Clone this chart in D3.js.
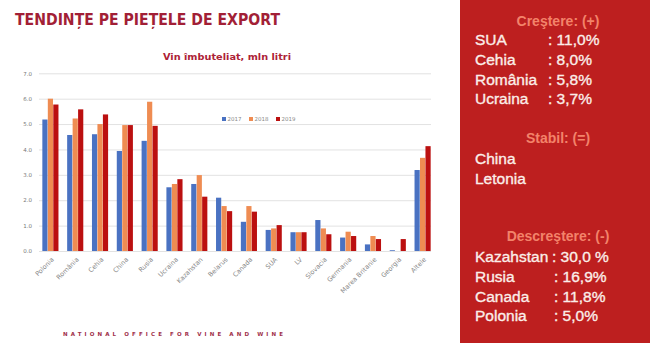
<!DOCTYPE html>
<html><head><meta charset="utf-8">
<script src="https://cdn.jsdelivr.net/npm/d3@7"></script>
<style>html,body{margin:0;padding:0;background:#fff;}svg{display:block;}</style>
</head><body>
<svg id="c" width="650" height="350"></svg>
<script>
const categories = ["Polonia","România","Cehia","China","Rusia","Ucraina","Kazahstan","Belarus","Canada","SUA","LV","Slovacia","Germania","Marea Britanie","Georgia","Altele"];
const years = ["2017","2018","2019"];
const v2017 = [5.18,4.57,4.60,3.94,4.34,2.51,2.64,2.10,1.15,0.83,0.74,1.22,0.53,0.26,0.03,3.19];
const v2018 = [6.00,5.22,5.00,4.96,5.88,2.64,2.99,1.77,1.77,0.89,0.74,0.89,0.76,0.59,0.00,3.67];
const v2019 = [5.77,5.58,5.38,4.96,4.93,2.83,2.14,1.57,1.55,1.02,0.74,0.66,0.59,0.47,0.47,4.13];
const yTicks = [0,1,2,3,4,5,6,7];
const growthNames = ["SUA","Cehia","România","Ucraina"];
const growthVals = [": 11,0%",": 8,0%",": 5,8%",": 3,7%"];
const stableNames = ["China","Letonia"];
const declineNames = ["Kazahstan","Rusia","Canada","Polonia"];
const declineVals = [": 30,0 %",": 16,9%",": 11,8%",": 5,0%"];

const seriesVals = [v2017, v2018, v2019];
const colors = ["#4a72c2", "#ef8c52", "#bb1010"];
const svg = d3.select("#c");

// Title
svg.append("text").attr("x", 15).attr("y", 25)
  .attr("font-family", "DejaVu Sans").attr("font-weight", "bold").attr("font-size", 15.5)
  .attr("fill", "#a21f36").attr("textLength", 265).attr("lengthAdjust", "spacingAndGlyphs")
  .text("TENDINȚE PE PIEȚELE DE EXPORT");
svg.append("text").attr("x", 227).attr("y", 60).attr("text-anchor", "middle")
  .attr("font-family", "DejaVu Sans").attr("font-weight", "bold").attr("font-size", 9)
  .attr("fill", "#ad2236").attr("textLength", 128).attr("lengthAdjust", "spacingAndGlyphs")
  .text("Vin îmbuteliat, mln litri");

// Scales
const y = d3.scaleLinear().domain([0, 7]).range([251, 73.3]);
const x = d3.scaleBand().domain(categories).range([38, 435]).paddingInner(0.35).paddingOuter(0.175);
const xs = d3.scaleBand().domain(years).range([0, x.bandwidth()]).paddingInner(0.05);

// Grid + y axis
const yAxis = d3.axisLeft(y).tickValues(yTicks).tickFormat(d3.format(".1f")).tickSize(-(431 - 39)).tickPadding(7);
const gy = svg.append("g").attr("transform", "translate(39,0)").call(yAxis);
gy.select(".domain").remove();
gy.selectAll(".tick line").attr("stroke", "#e2e2e2").attr("stroke-width", 1);
gy.selectAll(".tick text").attr("font-family", "DejaVu Sans").attr("font-size", 5.5).attr("fill", "#777");

// Bars
const g = svg.append("g");
categories.forEach((c, i) => {
  years.forEach((yr, k) => {
    const v = seriesVals[k][i];
    g.append("rect")
      .attr("x", x(c) + xs(yr)).attr("width", xs.bandwidth())
      .attr("y", y(v)).attr("height", Math.max(0, y(0) - y(v)))
      .attr("fill", colors[k]);
  });
});

// X axis labels
const xAxis = d3.axisBottom(x).tickSize(0).tickPadding(0);
const gx = svg.append("g").attr("transform", "translate(0,251)").call(xAxis);
gx.select(".domain").remove();
gx.selectAll(".tick text")
  .attr("font-family", "DejaVu Sans").attr("font-size", 6.5).attr("fill", "#888")
  .attr("text-anchor", "end").attr("dy", 0)
  .attr("transform", "translate(4,9) rotate(-45)");

// Legend
const legX = [222, 249, 276];
years.forEach((yr, k) => {
  svg.append("rect").attr("x", legX[k]).attr("y", 117).attr("width", 4).attr("height", 4).attr("fill", colors[k]);
  svg.append("text").attr("x", legX[k] + 5.5).attr("y", 121).attr("font-family", "DejaVu Sans")
    .attr("font-size", 5.5).attr("fill", "#888").text(yr);
});

// Footer
svg.append("text").attr("x", 63).attr("y", 336)
  .attr("font-family", "DejaVu Sans").attr("font-weight", "bold").attr("font-size", 5.5)
  .attr("fill", "#a0304a").attr("textLength", 220).attr("lengthAdjust", "spacing")
  .text("NATIONAL OFFICE FOR VINE AND WINE");

// Panel
svg.append("rect").attr("x", 460).attr("y", 0).attr("width", 190).attr("height", 343).attr("fill", "#bd1f1f");
const hdrColor = "#f3836a", itemColor = "#fbeee9";
function header(txt, cy) {
  svg.append("text").attr("x", 558).attr("y", cy + 5).attr("text-anchor", "middle")
    .attr("font-family", "Liberation Sans").attr("font-weight", "bold").attr("font-size", 14)
    .attr("fill", hdrColor).text(txt);
}
function item(txt, xx, cy) {
  svg.append("text").attr("x", xx).attr("y", cy + 5.5)
    .attr("font-family", "Liberation Sans").attr("font-size", 15.5)
    .attr("fill", itemColor).attr("stroke", itemColor).attr("stroke-width", 0.35).text(txt);
}
header("Creştere: (+)", 21);
const gY = [39, 59, 79, 98];
growthNames.forEach((n, i) => { item(n, 475, gY[i]); item(growthVals[i], 548, gY[i]); });
header("Stabil: (=)", 138);
const sY = [158, 178];
stableNames.forEach((n, i) => item(n, 475, sY[i]));
header("Descreştere: (-)", 236);
const dY = [256, 276, 296, 315];
declineNames.forEach((n, i) => { item(n, 475, dY[i]); item(declineVals[i], i === 0 ? 552 : 554, dY[i]); });
</script>
</body></html>
